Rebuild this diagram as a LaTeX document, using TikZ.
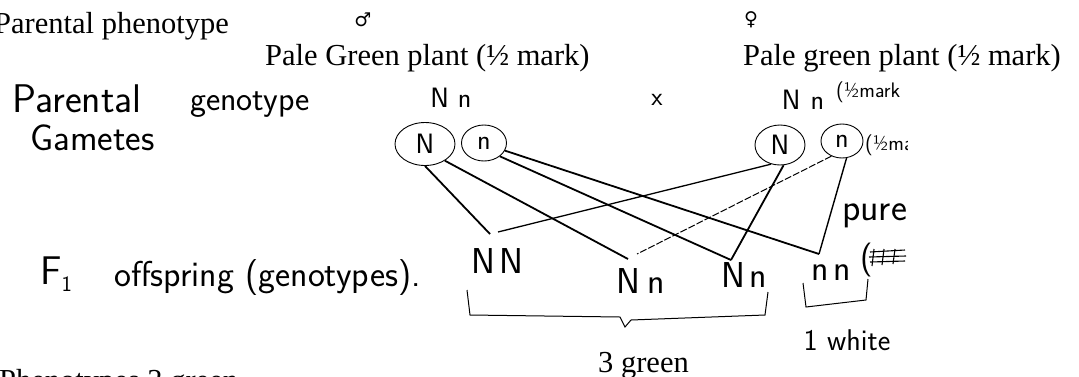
\documentclass[tikz,border=0pt]{standalone}
\usepackage{fontspec}
\setmainfont{Liberation Serif}
\newfontfamily\symfont{DejaVu Sans}
\usetikzlibrary{shapes.geometric}
\tikzset{
  typed/.style={font=\fontsize{30.5}{36}\selectfont, inner sep=0pt, anchor=base west},
  sym/.style={font=\symfont\fontsize{19}{22}\selectfont, inner sep=0pt},
  hand/.style={font=\sffamily\fontsize{34}{38}\selectfont, inner sep=0pt},
  handsmall/.style={font=\sffamily\fontsize{21}{24}\selectfont, inner sep=0pt, anchor=base west},
  gamete/.style={ellipse, draw, line width=0.9pt, inner sep=0pt, font=\sffamily\fontsize{28}{30}\selectfont},
  link/.style={line width=1.8pt},
  faint/.style={line width=1pt, dash pattern=on 7pt off 2pt},
  brace/.style={line width=1pt}
}
\begin{document}
\begin{tikzpicture}[x=1pt,y=-1pt]
\useasboundingbox (0,0) rectangle (1079,376);
% typed text
\node[typed] (pp) at (-6,33) {Parental phenotype};
\node[sym] (male) at (363,20) {♂};
\node[sym] (female) at (751,20) {♀};
\node[typed] (pm) at (265,65) {Pale Green plant (½ mark)};
\node[typed] (pf) at (743,65) {Pale green plant (½ mark)};
\node[typed] (tg) at (598,372) {3 green};
\node[typed] (ph) at (-1,390) {Phenotypes 3 green};

\begin{scope}
\clip (0,0) rectangle (907,376);
% handwritten labels
\node[hand, anchor=base west, font=\sffamily\fontsize{40}{44}\selectfont] (hpar) at (12,112) {Parental};
\node[hand, anchor=base west] (hgen) at (190,110) {genotype};
\node[hand, anchor=base west, font=\sffamily\fontsize{37}{40}\selectfont] (hgam) at (30,150) {Gametes};
\node[hand, font=\sffamily\fontsize{28}{30}\selectfont] (mg) at (451,98) {N\hspace{9pt}n};
\node[hand, font=\sffamily\fontsize{26}{28}\selectfont] (cross) at (657,100) {x};
\node[hand, font=\sffamily\fontsize{28}{30}\selectfont] (fg) at (803,100) {N\hspace{10pt}n};
\node[handsmall] (fmark) at (836,97) {(½mark};

% gametes
\node[gamete, minimum width=60pt, minimum height=43pt] (mN) at (425,144) {N};
\node[gamete, minimum width=45pt, minimum height=36pt] (mn) at (484,143) {n};
\node[gamete, minimum width=50pt, minimum height=40pt] (fN) at (780,145) {N};
\node[gamete, minimum width=42pt, minimum height=34pt] (fn) at (842,141) {n};
\node[handsmall] (gmark) at (865,150) {(½mark};

% offspring
\node[hand, anchor=base west, font=\sffamily\fontsize{40}{44}\selectfont] (f1) at (40,284) {F\raisebox{-7pt}{\fontsize{22}{24}\selectfont 1}};
\node[hand, anchor=base west, font=\sffamily\fontsize{36}{40}\selectfont] (off) at (114,286) {offspring (genotypes).};
\node[hand, font=\sffamily\fontsize{36}{40}\selectfont] (NN) at (497,261) {N\hspace{4pt}N};
\node[hand, font=\sffamily\fontsize{36}{40}\selectfont] (Nn2) at (641,281) {N\hspace{7pt}n};
\node[hand, font=\sffamily\fontsize{36}{40}\selectfont] (Nn3) at (744,275) {N\hspace{4pt}n};
\node[hand, font=\sffamily\fontsize{36}{40}\selectfont] (nn) at (831,273) {n\hspace{4pt}n};
\node[hand, anchor=base west, font=\sffamily\fontsize{38}{40}\selectfont] (pure) at (842,220) {pure};
\node[hand, anchor=base west] (paren) at (860,268) {(};
\node[hand, font=\sffamily\fontsize{30}{32}\selectfont] (white) at (847,340) {1 white};

% connector end points above the offspring
\coordinate (tNNa) at (490,234);
\coordinate (tNNb) at (498,232);
\coordinate (tNn2a) at (628,259);
\coordinate (tNn2b) at (637,254);
\coordinate (tNn3) at (731,260);
\coordinate (tnn) at (819,254);

% connectors
\draw[link] (mN.south) -- (tNNa);
\draw[link] (mN.-40) -- (tNn2a);
\draw[link] (mn.-20) -- (tnn);
\draw[link] (mn.-40) -- (tNn3);
\draw[link, line width=1.3pt] (fN.-115) -- (tNNb);
\draw[link] (fN.-80) -- (tNn3);
\draw[link, line width=1.4pt] (fn.-75) -- (tnn);
\draw[faint] (fn.-125) -- (tNn2b);

% crossed-out scribble
\draw[line width=1.1pt] (870,252) -- (905,250) (869,257) -- (906,256) (870,262) -- (905,261)
  (874,249) -- (872,266) (884,249) -- (882,265) (895,249) -- (893,264);

% brackets
\draw[brace] (467,290) -- (470,315) -- (620,317) -- (625,327) -- (631,320) -- (765,315) -- (768,292);
\draw[brace] (803,283) -- (806,307) -- (866,300) -- (868,279);
\end{scope}
\end{tikzpicture}
\end{document}
